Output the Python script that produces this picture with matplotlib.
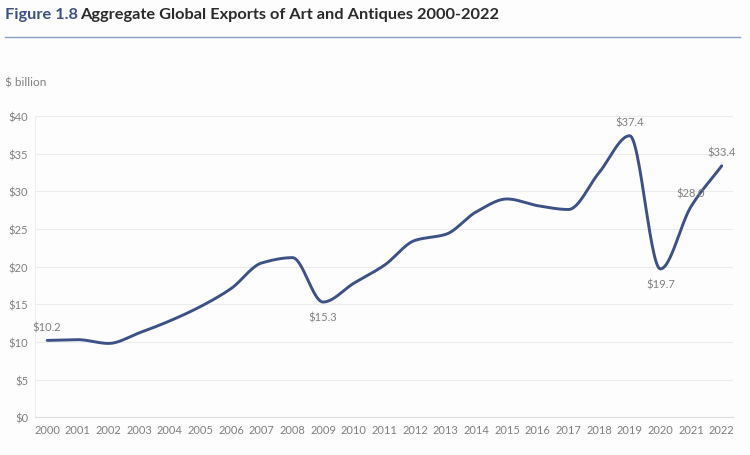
import numpy as np
import matplotlib
matplotlib.use("Agg")
import matplotlib.pyplot as plt

# Data
years = list(range(2000, 2023))
exports = [10.2, 10.3, 9.8, 11.2, 12.8, 14.7, 17.1, 20.5, 21.2, 15.3, 17.8, 20.2,
           23.5, 24.3, 27.3, 29.0, 28.1, 27.6, 32.5, 37.4, 19.7, 28.0, 33.4]
labelled = {2000: "$10.2", 2009: "$15.3", 2019: "$37.4", 2020: "$19.7",
            2021: "$28.0", 2022: "$33.4"}
ytick_vals = [0, 5, 10, 15, 20, 25, 30, 35, 40]


def pchip(x, y, xs):
    # monotone cubic (Fritsch-Carlson) so peaks stay on the data points
    x = np.asarray(x, float)
    y = np.asarray(y, float)
    h = np.diff(x)
    d = np.diff(y) / h
    m = np.zeros_like(y)
    for k in range(1, len(y) - 1):
        if d[k - 1] * d[k] > 0:
            w1 = 2 * h[k] + h[k - 1]
            w2 = h[k] + 2 * h[k - 1]
            m[k] = (w1 + w2) / (w1 / d[k - 1] + w2 / d[k])
    m[0] = d[0]
    m[-1] = d[-1]
    idx = np.clip(np.searchsorted(x, xs) - 1, 0, len(x) - 2)
    t = (xs - x[idx]) / h[idx]
    h00 = 2 * t**3 - 3 * t**2 + 1
    h10 = t**3 - 2 * t**2 + t
    h01 = -2 * t**3 + 3 * t**2
    h11 = t**3 - t**2
    return (h00 * y[idx] + h10 * h[idx] * m[idx]
            + h01 * y[idx + 1] + h11 * h[idx] * m[idx + 1])


plt.rcParams['font.family'] = ['Lato', 'DejaVu Sans']

fig = plt.figure(figsize=(7.5, 4.56), dpi=100, facecolor='#fdfdfd')
ax = fig.add_axes([0.047, 0.083, 0.930, 0.660])
ax.set_facecolor('#fdfdfd')

xs = np.linspace(years[0], years[-1], 600)
ax.plot(xs, pchip(years, exports, xs), color='#3d5186', lw=2.1,
        solid_capstyle='round', zorder=3)

ax.set_xlim(1999.61, 2022.36)
ax.set_ylim(0, 40)
ax.set_xticks(years)
ax.set_xticklabels([str(y) for y in years])
ax.set_yticks(ytick_vals)
ax.set_yticklabels([f"${v}" for v in ytick_vals])
ax.tick_params(length=0, labelsize=8, colors='#808080', pad=5)
ax.grid(axis='y', color='#ececec', lw=0.8)
for s in ['top', 'right']:
    ax.spines[s].set_visible(False)
ax.spines['left'].set_color('#efefef')
ax.spines['bottom'].set_color('#dddddd')

for yr, txt in labelled.items():
    v = exports[years.index(yr)]
    if yr in (2009, 2020):
        ax.annotate(txt, (yr, v), xytext=(0, -7), textcoords='offset points',
                    ha='center', va='top', fontsize=8, color='#808080')
    else:
        ax.annotate(txt, (yr, v), xytext=(0, 6), textcoords='offset points',
                    ha='center', va='bottom', fontsize=8, color='#808080')

fig.text(0.007, 0.968, "Figure 1.8", ha='left', va='center', fontsize=11.8,
         fontweight='bold', color='#3d5186')
fig.text(0.107, 0.968, "Aggregate Global Exports of Art and Antiques 2000-2022",
         ha='left', va='center', fontsize=11.8, fontweight='bold', color='#2b2b2b')
fig.add_artist(plt.Line2D([0.007, 0.987], [0.916, 0.916], color='#8b9dc3', lw=1.0))
fig.text(0.007, 0.818, "$ billion", ha='left', va='center', fontsize=8.5, color='#808080')

fig.savefig('out.png', dpi=100, facecolor=fig.get_facecolor())
